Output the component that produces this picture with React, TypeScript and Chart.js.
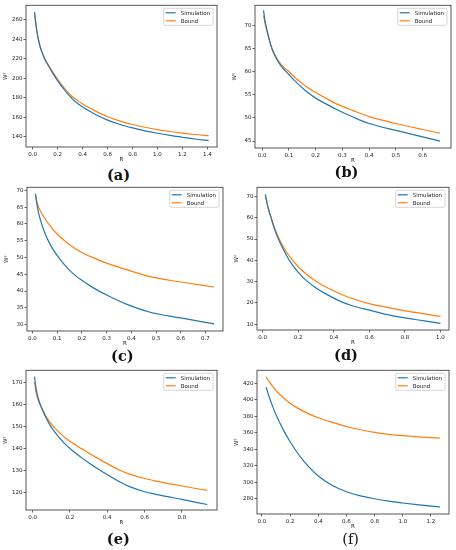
import React, { useEffect, useRef } from "react";
import { Chart, registerables } from "chart.js";

Chart.register(...registerables);

// ---------- data ----------
const SERIES_LABELS = ["Simulation", "Bound"];
const PANEL_LABELS = ["(a)", "(b)", "(c)", "(d)", "(e)", "(f)"];
const X_TITLE = "R";
const Y_TITLE = "W²";

// (a)
const R_A = [0.015, 0.025, 0.035, 0.045, 0.06, 0.08, 0.1, 0.13, 0.16, 0.2, 0.25, 0.3, 0.35, 0.4, 0.5, 0.6, 0.7, 0.8, 0.9, 1.0, 1.1, 1.2, 1.3, 1.41];
const SIM_A = [268, 256, 247, 240, 232, 224.5, 218.5, 211.8, 205.2, 197.2, 188.7, 181, 175, 170.5, 163, 157, 152.5, 149, 146, 143.5, 141.3, 139.4, 137.6, 136];
const BOUND_A = [265, 255, 246.5, 239.8, 232.2, 225, 219.2, 212.8, 206.5, 198.8, 190.3, 183, 178, 173.5, 166.5, 160.5, 156, 152.5, 149.7, 147.3, 145.3, 143.6, 142.2, 141];
const XTICKS_A = [0.0, 0.2, 0.4, 0.6, 0.8, 1.0, 1.2, 1.4];
const YTICKS_A = [140, 160, 180, 200, 220, 240, 260];

// (b)
const R_B = [0.005, 0.01, 0.02, 0.035, 0.05, 0.07, 0.1, 0.13, 0.16, 0.2, 0.24, 0.28, 0.34, 0.4, 0.5, 0.6, 0.665];
const SIM_B = [73.3, 71.2, 68.5, 65.2, 63.2, 61.3, 59.4, 57.6, 56.0, 54.3, 53.0, 51.8, 50.2, 48.8, 47.3, 45.9, 45.0];
const BOUND_B = [72.2, 70.6, 68.3, 65.3, 63.4, 61.6, 60.0, 58.4, 57.0, 55.5, 54.2, 53.0, 51.6, 50.3, 48.8, 47.5, 46.7];
const XTICKS_B = [0.0, 0.1, 0.2, 0.3, 0.4, 0.5, 0.6];
const YTICKS_B = [45, 50, 55, 60, 65, 70];

// (c)
const R_C = [0.012, 0.02, 0.031, 0.05, 0.076, 0.1, 0.13, 0.16, 0.2, 0.25, 0.3, 0.38, 0.48, 0.6, 0.735];
const SIM_C = [69.0, 65.0, 61.5, 57.3, 53.3, 50.6, 47.8, 45.5, 43.2, 40.8, 38.8, 36.1, 33.6, 32.0, 30.2];
const BOUND_C = [68.4, 66.0, 64.0, 61.6, 59.0, 57.0, 55.0, 53.3, 51.5, 49.8, 48.3, 46.4, 44.2, 42.7, 41.2];
const XTICKS_C = [0.0, 0.1, 0.2, 0.3, 0.4, 0.5, 0.6, 0.7];
const YTICKS_C = [30, 35, 40, 45, 50, 55, 60, 65, 70];

// (d)
const R_D = [0.015, 0.03, 0.047, 0.065, 0.088, 0.12, 0.15, 0.2, 0.253, 0.3, 0.35, 0.444, 0.5, 0.6, 0.7, 0.8, 0.9, 1.0];
const SIM_D = [71.0, 64.8, 60.0, 55.0, 50.0, 44.6, 40.0, 34.4, 30.0, 27.0, 24.5, 20.5, 18.8, 16.6, 14.5, 13.0, 11.7, 10.4];
const BOUND_D = [70.0, 65.0, 60.3, 55.7, 51.0, 45.8, 42.0, 37.0, 33.0, 30.2, 27.7, 24.0, 22.2, 19.7, 17.9, 16.3, 15.0, 13.7];
const XTICKS_D = [0.0, 0.2, 0.4, 0.6, 0.8, 1.0];
const YTICKS_D = [10, 20, 30, 40, 50, 60, 70];

// (e)
const R_E = [0.01, 0.015, 0.022, 0.03, 0.039, 0.05, 0.065, 0.08, 0.093, 0.11, 0.14, 0.17, 0.209, 0.262, 0.3, 0.351, 0.414, 0.468, 0.52, 0.6, 0.67, 0.8, 0.937];
const SIM_E = [172.5, 168.8, 165.4, 162.6, 160.2, 157.8, 155.0, 152.5, 150.5, 148.3, 145.0, 142.2, 139.2, 135.7, 133.4, 130.5, 127.2, 124.6, 122.5, 120.2, 118.9, 116.7, 114.4];
const BOUND_E = [170, 166.8, 163.8, 161.7, 160, 158, 155.5, 153.3, 151.7, 150, 147.3, 145, 142.6, 139.8, 137.8, 135.3, 132.3, 130.0, 128.2, 126.2, 124.9, 122.8, 120.8];
const XTICKS_E = [0.0, 0.2, 0.4, 0.6, 0.8];
const YTICKS_E = [120, 130, 140, 150, 160, 170];

// (f)
const R_F = [0.03, 0.05, 0.08, 0.11, 0.15, 0.2, 0.25, 0.3, 0.35, 0.4, 0.5, 0.6, 0.7, 0.8, 0.9, 1.0, 1.1, 1.2, 1.265];
const SIM_F = [415, 404, 390, 378, 364, 349, 336, 325, 315.5, 307.5, 296, 288.5, 283.5, 280, 277, 274.8, 272.8, 271, 270];
const BOUND_F = [427.5, 422, 415, 409, 402.5, 395.5, 390, 385.5, 381.5, 378, 372.5, 367.5, 363.5, 360.3, 358, 356.3, 355, 354, 353.5];
const XTICKS_F = [0.0, 0.2, 0.4, 0.6, 0.8, 1.0, 1.2];
const YTICKS_F = [280, 300, 320, 340, 360, 380, 400, 420];

// ---------- layout / style ----------
const COLORS = ["#1f77b4", "#ff7f0e"];
const FONT = '"DejaVu Sans", sans-serif';
const TICK_SIZE = 5.5;
const Y_AXIS_W = 24;
const X_AXIS_H = 18;
const PAD_TOP = 3;
const PAD_RIGHT = 7;

type Box = { L: number; T: number; R: number; B: number };
type PanelCfg = {
  r: number[]; sim: number[]; bound: number[];
  xTicks: number[]; yTicks: number[];
  xRange: [number, number]; yRange: [number, number];
  box: Box; label: string; labelPos: [number, number]; labelWeight: number;
};

const PANELS: PanelCfg[] = [
  { r: R_A, sim: SIM_A, bound: BOUND_A, xTicks: XTICKS_A, yTicks: YTICKS_A, xRange: [-0.054, 1.477], yRange: [129.4, 274.8], box: { L: 26, T: 4, R: 217, B: 147 }, label: PANEL_LABELS[0], labelPos: [118.5, 175], labelWeight: 700 },
  { r: R_B, sim: SIM_B, bound: BOUND_B, xTicks: XTICKS_B, yTicks: YTICKS_B, xRange: [-0.027, 0.706], yRange: [43.5, 74.4], box: { L: 255, T: 4, R: 451, B: 148 }, label: PANEL_LABELS[1], labelPos: [346.5, 172], labelWeight: 700 },
  { r: R_C, sim: SIM_C, bound: BOUND_C, xTicks: XTICKS_C, yTicks: YTICKS_C, xRange: [-0.022, 0.771], yRange: [28.1, 70.9], box: { L: 27, T: 186, R: 223, B: 331 }, label: PANEL_LABELS[2], labelPos: [122.3, 356.3], labelWeight: 700 },
  { r: R_D, sim: SIM_D, bound: BOUND_D, xTicks: XTICKS_D, yTicks: YTICKS_D, xRange: [-0.032, 1.048], yRange: [7.3, 74.3], box: { L: 257, T: 186, R: 449, B: 330 }, label: PANEL_LABELS[3], labelPos: [346, 355], labelWeight: 700 },
  { r: R_E, sim: SIM_E, bound: BOUND_E, xTicks: XTICKS_E, yTicks: YTICKS_E, xRange: [-0.036, 0.989], yRange: [111.9, 175.4], box: { L: 26, T: 369, R: 217, B: 510 }, label: PANEL_LABELS[4], labelPos: [118.3, 538.7], labelWeight: 700 },
  { r: R_F, sim: SIM_F, bound: BOUND_F, xTicks: XTICKS_F, yTicks: YTICKS_F, xRange: [-0.035, 1.328], yRange: [261.5, 435.5], box: { L: 257, T: 369, R: 449, B: 514 }, label: PANEL_LABELS[5], labelPos: [350.7, 539.3], labelWeight: 400 },
];

const framePlugin = {
  id: "frame",
  afterDatasetsDraw(chart: any) {
    const { ctx, chartArea: a } = chart;
    ctx.save();
    ctx.strokeStyle = "#444";
    ctx.lineWidth = 0.9;
    ctx.strokeRect(a.left, a.top, a.right - a.left, a.bottom - a.top);
    ctx.restore();
  },
};

const innerLegendPlugin = {
  id: "innerLegend",
  afterDraw(chart: any) {
    const { ctx, chartArea: a } = chart;
    const labels: string[] = chart.data.datasets.map((d: any) => d.label);
    ctx.save();
    ctx.font = `${TICK_SIZE}px ${FONT}`;
    const tw = Math.max(...labels.map((l) => ctx.measureText(l).width));
    const w = 17 + tw + 3;
    const h = 17;
    const x0 = a.right - 4 - w;
    const y0 = a.top + 3;
    ctx.fillStyle = "rgba(255,255,255,0.9)";
    ctx.strokeStyle = "#cccccc";
    ctx.lineWidth = 0.8;
    ctx.beginPath();
    const rr = 1.5;
    ctx.moveTo(x0 + rr, y0);
    ctx.lineTo(x0 + w - rr, y0);
    ctx.quadraticCurveTo(x0 + w, y0, x0 + w, y0 + rr);
    ctx.lineTo(x0 + w, y0 + h - rr);
    ctx.quadraticCurveTo(x0 + w, y0 + h, x0 + w - rr, y0 + h);
    ctx.lineTo(x0 + rr, y0 + h);
    ctx.quadraticCurveTo(x0, y0 + h, x0, y0 + h - rr);
    ctx.lineTo(x0, y0 + rr);
    ctx.quadraticCurveTo(x0, y0, x0 + rr, y0);
    ctx.closePath();
    ctx.fill();
    ctx.stroke();
    labels.forEach((l, i) => {
      const cy = y0 + 4.5 + i * 8;
      ctx.strokeStyle = chart.data.datasets[i].borderColor;
      ctx.lineWidth = 1.2;
      ctx.beginPath();
      ctx.moveTo(x0 + 2, cy);
      ctx.lineTo(x0 + 12, cy);
      ctx.stroke();
      ctx.fillStyle = "#222";
      ctx.textBaseline = "middle";
      ctx.textAlign = "left";
      ctx.fillText(l, x0 + 17, cy + 0.3);
    });
    ctx.restore();
  },
};

function Panel({ cfg }: { cfg: PanelCfg }) {
  const ref = useRef<HTMLCanvasElement | null>(null);
  useEffect(() => {
    if (!ref.current) return;
    const series = [cfg.sim, cfg.bound];
    const chart = new Chart(ref.current, {
      type: "line",
      data: {
        datasets: series.map((ys, k) => ({
          label: SERIES_LABELS[k],
          data: cfg.r.map((x, i) => ({ x, y: ys[i] })),
          borderColor: COLORS[k],
          backgroundColor: COLORS[k],
          borderWidth: 1.2,
          pointRadius: 0,
          cubicInterpolationMode: "monotone",
          fill: false,
        })),
      },
      options: {
        animation: false,
        responsive: true,
        maintainAspectRatio: false,
        layout: { padding: { left: 0, top: PAD_TOP, right: PAD_RIGHT, bottom: 0 } },
        plugins: { legend: { display: false }, tooltip: { enabled: false } },
        scales: {
          x: {
            type: "linear",
            min: cfg.xRange[0],
            max: cfg.xRange[1],
            afterBuildTicks: (axis: any) => { axis.ticks = cfg.xTicks.map((v) => ({ value: v })); },
            afterFit: (axis: any) => { axis.height = X_AXIS_H; },
            ticks: {
              callback: (v: any) => Number(v).toFixed(1),
              font: { family: FONT, size: TICK_SIZE },
              color: "#222",
              padding: 1.5,
              maxRotation: 0,
              autoSkip: false,
            },
            grid: { display: true, drawOnChartArea: false, drawTicks: true, tickLength: 2.5, color: "#444", lineWidth: 0.8 },
            border: { display: false },
            title: { display: true, text: X_TITLE, font: { family: FONT, size: TICK_SIZE }, color: "#222", padding: { top: 0, bottom: 1.7 } },
          },
          y: {
            type: "linear",
            min: cfg.yRange[0],
            max: cfg.yRange[1],
            afterBuildTicks: (axis: any) => { axis.ticks = cfg.yTicks.map((v) => ({ value: v })); },
            afterFit: (axis: any) => { axis.width = Y_AXIS_W; },
            ticks: {
              callback: (v: any) => String(Math.round(Number(v))),
              font: { family: FONT, size: TICK_SIZE },
              color: "#222",
              padding: 1,
              autoSkip: false,
            },
            grid: { display: true, drawOnChartArea: false, drawTicks: true, tickLength: 2.5, color: "#444", lineWidth: 0.8 },
            border: { display: false },
            title: { display: true, text: Y_TITLE, font: { family: FONT, size: TICK_SIZE }, color: "#222", padding: { top: 0.7, bottom: 0 } },
          },
        },
      } as any,
      plugins: [framePlugin, innerLegendPlugin],
    });
    return () => chart.destroy();
  }, [cfg]);

  const { L, T, R, B } = cfg.box;
  const left = L - Y_AXIS_W;
  const top = T - PAD_TOP;
  const width = R - L + Y_AXIS_W + PAD_RIGHT;
  const height = B - T + PAD_TOP + X_AXIS_H;
  return (
    <>
      <div style={{ position: "absolute", left, top, width, height }}>
        <canvas ref={ref} />
      </div>
      <div
        style={{
          position: "absolute",
          left: cfg.labelPos[0],
          top: cfg.labelPos[1],
          transform: "translate(-50%, -50%)",
          fontFamily: '"DejaVu Serif", serif',
          fontWeight: cfg.labelWeight,
          fontSize: 14.5,
          lineHeight: 1,
          color: "#111",
          whiteSpace: "nowrap",
        }}
      >
        {cfg.label}
      </div>
    </>
  );
}

export default function App() {
  return (
    <div style={{ position: "absolute", left: 0, top: 0, width: 456, height: 550, background: "#fff", overflow: "hidden" }}>
      {PANELS.map((p, i) => (
        <Panel key={i} cfg={p} />
      ))}
    </div>
  );
}
